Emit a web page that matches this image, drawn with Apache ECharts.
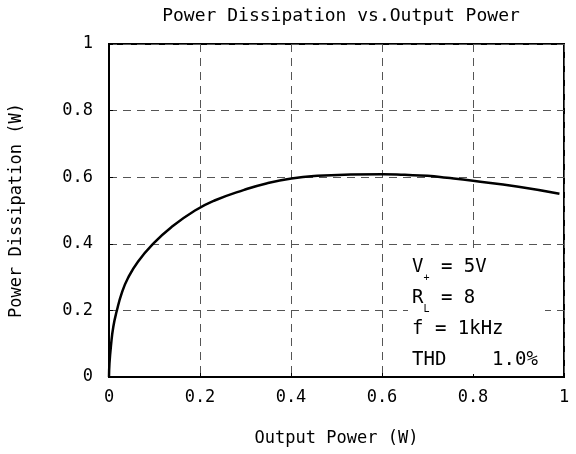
<!DOCTYPE html>
<html>
<head>
<meta charset="utf-8">
<script src="https://cdn.jsdelivr.net/npm/echarts@6/dist/echarts.min.js"></script>
<style>
html,body{margin:0;padding:0;background:#fff;}
#main{width:576px;height:454px;}
</style>
</head>
<body>
<div id="main"></div>
<script>
var outPower = [0, 0.001, 0.0044, 0.0095, 0.017, 0.028, 0.042, 0.064, 0.097, 0.137, 0.189, 0.232, 0.297, 0.348, 0.401, 0.458, 0.531, 0.602, 0.65, 0.7, 0.743, 0.8, 0.9, 0.99];
var dissipation = [0, 0.04, 0.095, 0.151, 0.198, 0.252, 0.298, 0.347, 0.4, 0.45, 0.5, 0.53, 0.562, 0.582, 0.596, 0.604, 0.608, 0.609, 0.607, 0.604, 0.598, 0.589, 0.571, 0.55];
var tickLabels = ['0', '0.2', '0.4', '0.6', '0.8', '1'];

var font = 'DejaVu Sans Mono';
var myChart = echarts.init(document.getElementById('main'));

var pts = [];
for (var i = 0; i < outPower.length; i++) {
	pts.push([outPower[i], dissipation[i]]);
}

var noteRich = {
	t: {fontFamily: font, fontSize: 19, color: '#000', lineHeight: 31},
	s: {fontFamily: font, fontSize: 10, color: '#000', lineHeight: 31, verticalAlign: 'bottom'}
};

var option = {
	animation: false,
	title: {
		text: 'Power Dissipation vs.Output Power',
		left: 336,
		textAlign: 'center',
		top: 2,
		textStyle: {fontFamily: font, fontSize: 18, fontWeight: 'normal', color: '#000'}
	},
	grid: {
		left: 108, right: 12, top: 44, bottom: 77,
		show: true,
		borderColor: '#000',
		borderWidth: 2
	},
	xAxis: {
		type: 'value', min: 0, max: 1, interval: 0.2,
		name: 'Output Power (W)',
		nameLocation: 'middle',
		nameGap: 53,
		nameTextStyle: {fontFamily: font, fontSize: 17, color: '#000'},
		axisLine: {show: true, lineStyle: {color: '#000', width: 2}},
		axisTick: {show: true, inside: true, length: 4, lineStyle: {color: '#000'}},
		axisLabel: {
			margin: 12, fontFamily: font, fontSize: 17, color: '#000',
			formatter: function (v) { return tickLabels[Math.round(v * 5)]; }
		},
		splitLine: {show: true, lineStyle: {color: '#555', type: [8, 6], width: 1}}
	},
	yAxis: {
		type: 'value', min: 0, max: 1, interval: 0.2,
		name: 'Power Dissipation (W)',
		nameLocation: 'middle',
		nameGap: 84,
		nameTextStyle: {fontFamily: font, fontSize: 17, color: '#000'},
		axisLine: {show: true, lineStyle: {color: '#000', width: 2}},
		axisTick: {show: true, inside: true, length: 4, lineStyle: {color: '#000'}},
		axisLabel: {
			margin: 16, fontFamily: font, fontSize: 17, color: '#000',
			formatter: function (v) { return tickLabels[Math.round(v * 5)]; }
		},
		splitLine: {show: true, lineStyle: {color: '#555', type: [8, 6], width: 1}}
	},
	series: [{
		type: 'line',
		data: pts,
		smooth: 0.5,
		showSymbol: false,
		lineStyle: {color: '#000', width: 2.5}
	}],
	graphic: [{
		type: 'rect',
		shape: {x: 408, y: 248, width: 137, height: 126},
		style: {fill: '#fff'},
		z: 10
	}, {
		type: 'text',
		x: 412, y: 252,
		z: 11,
		style: {
			text: '{t|V}{s|+}{t| = 5V}\n{t|R}{s|L}{t| = 8}\n{t|f = 1kHz}\n{t|THD    1.0%}',
			rich: noteRich
		}
	}]
};
myChart.setOption(option);
</script>
</body>
</html>
